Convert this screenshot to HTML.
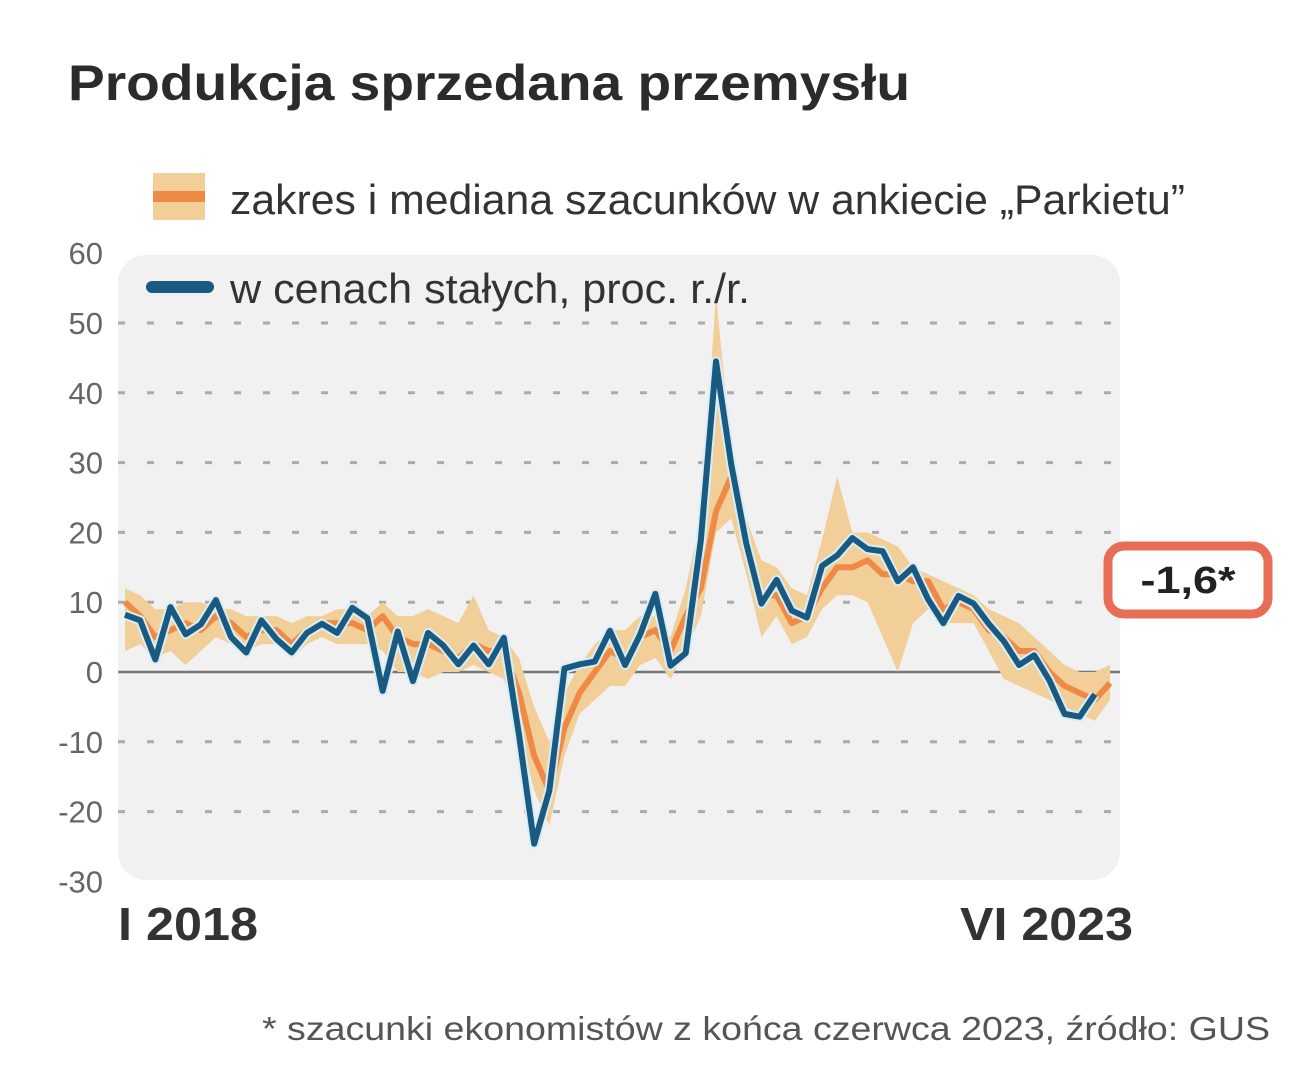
<!DOCTYPE html>
<html><head><meta charset="utf-8"><style>
body{margin:0;background:#fff;width:1299px;height:1080px;overflow:hidden;font-family:"Liberation Sans",sans-serif;}
</style></head><body>
<svg width="1299" height="1080" font-family="Liberation Sans, sans-serif">
<text x="68" y="100" font-size="50" font-weight="bold" fill="#2b2b2b" textLength="842" lengthAdjust="spacingAndGlyphs">Produkcja sprzedana przemysłu</text>
<rect x="118" y="255" width="1002" height="625" rx="28" fill="#f1f1f1"/>
<g id="grid"></g>
<g id="marks"></g>
<g>
<rect x="153" y="173" width="52" height="47" fill="#f2cf98"/>
<rect x="153" y="191" width="52" height="11" fill="#ee8a45"/>
<text x="230" y="214" font-size="42" fill="#333" textLength="955" lengthAdjust="spacingAndGlyphs">zakres i mediana szacunków w ankiecie „Parkietu”</text>
<line x1="152" y1="287" x2="208" y2="287" stroke="#1b5a80" stroke-width="12" stroke-linecap="round"/>
<text x="230" y="303" font-size="42" fill="#333" textLength="520" lengthAdjust="spacingAndGlyphs">w cenach stałych, proc. r./r.</text>
</g>
<text x="118" y="940" font-size="46" font-weight="bold" fill="#333" textLength="140" lengthAdjust="spacingAndGlyphs">I 2018</text>
<text x="960" y="940" font-size="46" font-weight="bold" fill="#333" textLength="173" lengthAdjust="spacingAndGlyphs">VI 2023</text>
<rect x="1108" y="546" width="160" height="68" rx="16" fill="#fff" stroke="#e76d55" stroke-width="9"/>
<text x="1188" y="593" font-size="38" font-weight="bold" fill="#222" text-anchor="middle" textLength="95" lengthAdjust="spacingAndGlyphs">-1,6*</text>
<text x="262" y="1040" font-size="33" fill="#555" textLength="1008" lengthAdjust="spacingAndGlyphs">* szacunki ekonomistów z końca czerwca 2023, źródło: GUS</text>
</svg>
<script>
const ticks=[60,50,40,30,20,10,0,-10,-20,-30];
const actual=[8.2,7.4,1.8,9.3,5.4,6.8,10.3,5.0,2.8,7.4,4.7,2.8,
5.6,6.9,5.6,9.2,7.7,-2.7,5.8,-1.3,5.6,3.8,1.1,3.8,
1.1,4.9,-9,-24.6,-17.0,0.5,1.1,1.5,5.9,1.0,5.4,11.2,
0.9,2.7,18.9,44.5,29.8,18.4,9.8,13.2,8.8,7.8,15.2,16.7,
19.2,17.6,17.3,13.0,15.0,10.4,7.0,10.9,9.8,6.9,4.4,1.0,
2.4,-1.2,-6.0,-6.4,-3.2];
const median=[10,8,5,6,7,6,8,7,5,6,6,4,
6,7,7,7,6,8,5,4,4,3,2,4,
3,3,-3,-12,-17,-8,-3,0,3,2,5,6,
3,8,12,23,28,18,11,11,7,8,12,15,
15,16,14,14,13,13,9,10,9,6,5,3,
3,0,-2,-3,-4,-1.6];
const hi=[12,11,9,9,10,10,9,9,8,8,8,7,
8,8,9,9,8,10,8,8,9,8,7,11,
6,5,2,-5,-10,-3,1,4,6,6,8,8,
5,12,22,54,32,22,16,15,12,11,19,28,
20,20,19,18,15,14,13,12,11,9,8,7,
5,3,1,0,0,1];
const lo=[3,4,2,3,1,3,5,4,3,4,4,2,
4,5,4,4,4,3,0,0,-1,0,0,1,
0,-1,-8,-17,-22,-12,-6,-4,-2,-2,1,2,
-1,3,8,20,22,14,5,8,4,5,9,11,
11,10,5,0,7,9,7,7,7,3,-1,-2,
-3,-4,-5,-6,-7,-4];
const NS='http://www.w3.org/2000/svg';
const X0=125,X1=1110,N=66;
function xs(i){return X0+(X1-X0)*i/(N-1);}
function ys(v){return 672-v*6.98;}
const grid=document.getElementById('grid'),marks=document.getElementById('marks');
ticks.forEach(t=>{
  const l=document.createElementNS(NS,'line');
  
  
  l.setAttribute('x1',118);l.setAttribute('x2',1120);
  l.setAttribute('y1',ys(t));l.setAttribute('y2',ys(t));
  if(t===0){l.setAttribute('stroke','#777');l.setAttribute('stroke-width','2.5');}
  else{l.setAttribute('stroke','#aaa');l.setAttribute('stroke-width','3');l.setAttribute('stroke-dasharray','7 22');}
  if(t!==60&&t!==-30)grid.appendChild(l);
  const tx=document.createElementNS(NS,'text');
  
  
  tx.setAttribute('x',103);tx.setAttribute('y',ys(t)+11);
  tx.setAttribute('text-anchor','end');tx.setAttribute('font-size','31');tx.setAttribute('fill','#666');
  tx.textContent=t;grid.appendChild(tx);
});
let d='';
hi.forEach((v,i)=>{d+=(i?'L':'M')+xs(i)+','+ys(v);});
for(let i=lo.length-1;i>=0;i--)d+='L'+xs(i)+','+ys(lo[i]);
const band=document.createElementNS(NS,'path');


band.setAttribute('d',d+'Z');band.setAttribute('fill','#f2cf98');
marks.appendChild(band);
function line(arr,color,w,name){
  const p=document.createElementNS(NS,'path');
  
  
  p.setAttribute('d',arr.map((v,i)=>(i?'L':'M')+xs(i)+','+ys(v)).join(''));
  p.setAttribute('fill','none');p.setAttribute('stroke',color);p.setAttribute('stroke-width',w);p.setAttribute('stroke-linejoin','round');
  marks.appendChild(p);
}
line(median,'#ee8a45',6,'median-line');
line(actual,'#d8eef6',10,'actual-line-halo');
line(actual,'#1b5a80',6,'actual-line');
</script>
</body></html>
